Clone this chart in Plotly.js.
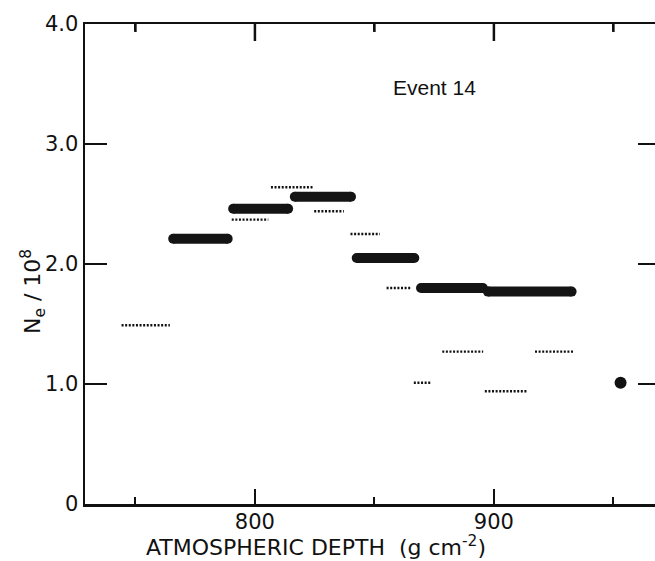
<!DOCTYPE html>
<html>
<head>
<meta charset="utf-8">
<script src="https://cdn.plot.ly/plotly-3.0.1.min.js"></script>
<style>
html,body{margin:0;padding:0;overflow:hidden;background:#fff;}
#chart{width:672px;height:561px;}
</style>
</head>
<body>
<div id="chart"></div>
<script>
// Thick (measured) segments: start depth, end depth, Ne/10^8
const thickStart = [765.8, 790.9, 816.7, 842.6, 869.5, 897.5];
const thickEnd   = [788.6, 813.9, 840.2, 866.7, 895.4, 932.5];
const thickLevel = [2.21, 2.46, 2.56, 2.05, 1.80, 1.77];

// Dotted segments
const dotStart = [744.2, 790.3, 806.7, 824.8, 840.0, 855.1, 878.4, 917.2, 866.5, 896.2];
const dotEnd   = [764.4, 805.6, 824.1, 837.2, 852.3, 865.6, 895.5, 933.2, 873.5, 913.7];
const dotLevel = [1.49, 2.37, 2.64, 2.44, 2.25, 1.80, 1.27, 1.27, 1.01, 0.94];

// Single point
const pointX = [953.0];
const pointY = [1.01];

const yTickVals = [0, 1, 2, 3, 4];
const yTickText = ["0", "1.0", "2.0", "3.0", "4.0"];
const xTickVals = [800, 900];
const xTickText = ["800", "900"];
const xMinorVals = [750, 850, 950];

function segs(s, e, l) {
  const x = [], y = [];
  for (let i = 0; i < s.length; i++) {
    x.push(s[i], e[i], null);
    y.push(l[i], l[i], null);
  }
  return {x, y};
}

const th = segs(thickStart, thickEnd, thickLevel);
const dt = segs(dotStart, dotEnd, dotLevel);

const ink = '#111';

const traces = [
  {x: dt.x, y: dt.y, mode: 'lines', connectgaps: false,
   line: {color: ink, width: 2.4, dash: '2px,1.6px'}, hoverinfo: 'skip'},
  {x: th.x, y: th.y, mode: 'lines+markers', connectgaps: false,
   line: {color: '#141414', width: 10},
   marker: {color: '#141414', size: 10, symbol: 'circle'}, hoverinfo: 'skip'},
  {x: pointX, y: pointY, mode: 'markers',
   marker: {color: ink, size: 12, symbol: 'circle'}, hoverinfo: 'skip'}
];

const FAM = 'DejaVu Sans, sans-serif';
const xRange = [728.9, 969.5];
const plotH = 480;

// top-edge tick marks (mirrored x ticks)
const shapes = [];
xTickVals.forEach(v => shapes.push({type: 'line', xref: 'x', yref: 'paper', layer: 'above',
  x0: v, x1: v, y0: 1, y1: 1 - 17 / plotH, line: {color: ink, width: 2.5}}));
xMinorVals.forEach(v => shapes.push({type: 'line', xref: 'x', yref: 'paper', layer: 'above',
  x0: v, x1: v, y0: 1, y1: 1 - 8 / plotH, line: {color: ink, width: 2.5}}));

const layout = {
  width: 672, height: 561,
  margin: {l: 85, r: 12, t: 24, b: 57},
  paper_bgcolor: '#fff', plot_bgcolor: '#fff',
  showlegend: false,
  font: {family: FAM, color: ink},
  xaxis: {
    range: xRange,
    tickvals: xTickVals, ticktext: xTickText,
    ticks: 'inside', ticklen: 15, tickwidth: 2, tickcolor: ink,
    minor: {tickvals: xMinorVals, ticks: 'inside', ticklen: 7, tickwidth: 2, tickcolor: ink},
    showline: true, linecolor: ink, linewidth: 2.5, mirror: 'ticks',
    showgrid: false, zeroline: false,
    ticklabelstandoff: -3,
    tickfont: {family: FAM, size: 21, color: ink}
  },
  yaxis: {
    range: [0, 4],
    tickvals: yTickVals, ticktext: yTickText,
    ticks: 'inside', ticklen: 22, tickwidth: 2.5, tickcolor: ink,
    showline: true, linecolor: ink, linewidth: 2.5, mirror: 'ticks',
    showgrid: false, zeroline: false,
    tickfont: {family: FAM, size: 21, color: ink}
  },
  shapes: shapes,
  annotations: [
    {xref: 'x', yref: 'y', x: 875.3, y: 3.475, xanchor: 'center', yanchor: 'middle',
     showarrow: false, text: 'Event 14',
     font: {family: 'Liberation Sans, sans-serif', size: 21, color: ink}},
    {xref: 'paper', yref: 'paper', x: (316 - 85) / 575, y: -(546 - 504) / plotH,
     xanchor: 'center', yanchor: 'middle', showarrow: false,
     text: 'ATMOSPHERIC DEPTH  (g cm<sup>-2</sup>)',
     font: {family: FAM, size: 22, color: ink}},
    {xref: 'paper', yref: 'paper', x: -(85 - 33) / 575, y: 1 - (292 - 24) / plotH,
     xanchor: 'center', yanchor: 'middle', showarrow: false, textangle: -90,
     text: 'N<sub>e</sub> / 10<sup>8</sup>',
     font: {family: FAM, size: 22, color: ink}}
  ]
};

Plotly.newPlot('chart', traces, layout, {displayModeBar: false, staticPlot: true});
</script>
</body>
</html>
